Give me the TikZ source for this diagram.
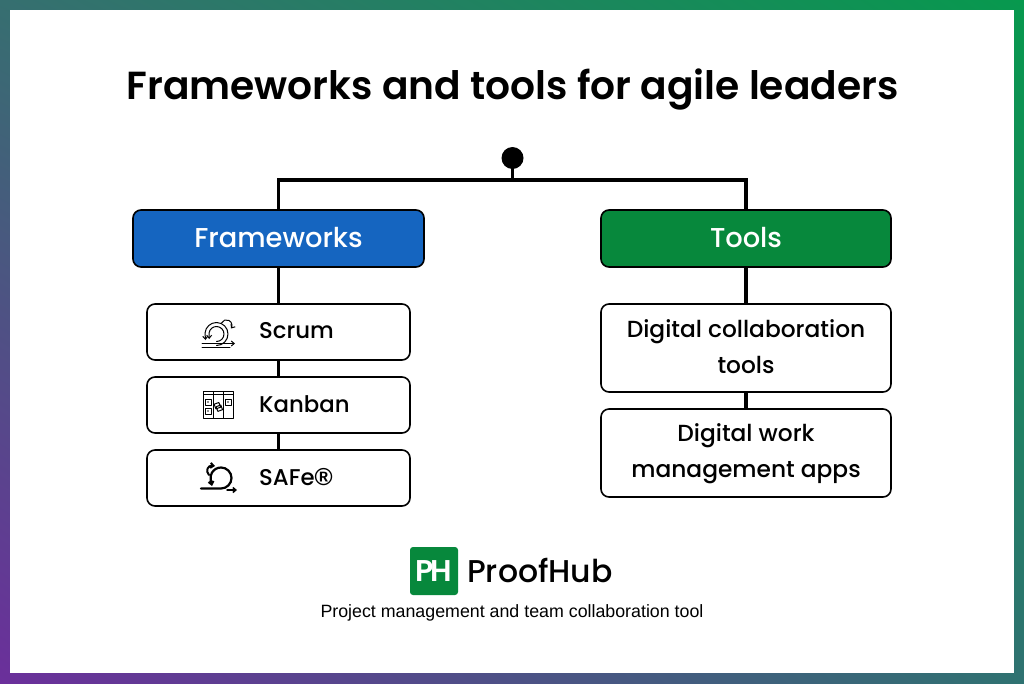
\documentclass[tikz,border=0pt]{standalone}
\usepackage{fontspec}
\setmainfont{Poppins Medium}
\newfontfamily\titlefont{Poppins SemiBold}
\newfontfamily\tagfont{Liberation Sans}
\usetikzlibrary{calc,shadings,arrows.meta}
\definecolor{tl}{HTML}{366F70}
\definecolor{tr}{HTML}{07994E}
\definecolor{bl}{HTML}{6B2F9B}
\definecolor{br}{HTML}{2F7271}
\definecolor{fwblue}{HTML}{1565C0}
\definecolor{toolgreen}{HTML}{07883C}
\tikzset{
  conn/.style={line width=3.8pt,black},
  headbox/.style={draw=black,line width=1.6pt,rounded corners=8pt,minimum width=290pt,minimum height=57pt,inner sep=0pt,text=white,font=\fontsize{27.3}{30}\selectfont},
  itembox/.style={draw=black,line width=1.6pt,rounded corners=8pt,fill=white,inner sep=0pt},
  smallbox/.style={itembox,minimum width=263pt,minimum height=56pt},
  bigbox/.style={itembox,minimum width=290pt,minimum height=88pt},
  bigtext/.style={inner sep=0pt,align=center,font=\fontsize{23.3}{36}\selectfont},
  lbl/.style={anchor=west,inner sep=0pt,font=\fontsize{22.8}{28}\selectfont},
  ico/.style={line width=1pt,black,line cap=round,line join=round},
  ticon/.style={ico,-{Straight Barb[length=3pt,width=5pt]}},
}
\begin{document}
\begin{tikzpicture}[x=1pt,y=-1pt]
\useasboundingbox (0,0) rectangle (1024,683);
\shade[upper left=tl,upper right=tr,lower left=bl,lower right=br] (0,0) rectangle (1024,683);
\fill[white] (10,10) rectangle (1014,673);
\node[inner sep=0pt,font=\titlefont\fontsize{39.15}{42}\selectfont] (title) at (512.5,89) {Frameworks and tools for agile leaders};

\node[circle,fill=black,minimum size=22pt,inner sep=0pt] (dot) at (512.5,158) {};
\coordinate (bus) at (512.5,180);
\node[headbox,fill=fwblue,minimum width=291pt] (fw) at (278.5,238.5) {\raisebox{2pt}{Frameworks}};
\node[headbox,fill=toolgreen] (tools) at (746,238.5) {\raisebox{2pt}{Tools}};
\node[smallbox] (scrum) at (278.5,332) {};
\node[smallbox] (kanban) at (278.5,405) {};
\node[smallbox] (safe) at (278.5,478) {};
\node[bigbox] (dc) at (746,348) {};
\node[bigbox] (dw) at (746,453) {};

\draw[conn] (dot.center) -- (bus);
\draw[conn] (fw.north) -- (fw.north |- bus) -- (tools.north |- bus) -- (tools.north);
\draw[conn] (fw.south) -- (scrum.north);
\draw[conn] (scrum.south) -- (kanban.north);
\draw[conn] (kanban.south) -- (safe.north);
\draw[conn] (tools.south) -- (dc.north);
\draw[conn] (dc.south) -- (dw.north);

\node[bigtext] (dct) at (746,346.5) {Digital collaboration\\tools\hspace{12pt}};
\node[bigtext] (dwt) at (746,454) {Digital work\\management apps};
\node[lbl] (scrumt) at (259,331) {Scrum};
\node[lbl] (kanbant) at (259,404) {Kanban};
\node[lbl] (safet) at (259,477) {SAFe{\fontsize{24.5}{24}\selectfont\tagfont\bfseries ®}};

% Scrum icon
\begin{scope}[shift={(218,332)}]
  \draw[ico] (-16,15.5) -- (12,15.5);
  \draw[ticon] (-16,11.5) -- (17,11.5);
  \draw[ticon] (-1.5,13.5) arc[start angle=90,end angle=-175,radius=11.5] -- (-12.5,8);
  \draw[ticon] (-1.5,9.5) arc[start angle=90,end angle=-170,radius=7.5] -- (-8.8,7);
  \draw[ticon] (3.5,-9) arc[start angle=-155,end angle=35,radius=5.5];
\end{scope}
% Kanban icon
\begin{scope}[shift={(218,405)}]
  \draw[ico,line cap=butt] (-15,-13.5) rectangle (15,13);
  \draw[ico,line width=1.8pt,line cap=butt] (-15,-10.5) -- (15,-10.5);
  \draw[ico,line cap=butt] (-5,-13.5) -- (-5,13) (5,-13.5) -- (5,13);
  \draw[ico] (-13,-6) rectangle (-7,0);
  \draw[ico] (-13,3) rectangle (-7,9);
  \draw[ico] (7,-6) rectangle (13,0);
  \fill (-10.7,-3.7) rectangle (-9.3,-2.3) (-10.7,5.3) rectangle (-9.3,6.7) (9.3,-3.7) rectangle (10.7,-2.3);
  \draw[ico,rotate around={20:(0,1)}] (-3,-2) rectangle (2,3);
  \draw[ico,rotate around={20:(0,1)}] (-2,1) rectangle (3,6);
\end{scope}
% SAFe icon
\begin{scope}[shift={(218,478)}]
  \draw[ticon,line width=2.2pt] (-17,10.5) -- (3,10.5) arc[start angle=90,end angle=-190,radius=10.5] -- (-6,8);
  \draw[ticon,line width=2pt] (-9,-3) .. controls (-13,-7) and (-10,-13) .. (-3,-12);
  \draw[ticon,line width=1.5pt] (9,12) -- (19,12);
\end{scope}

% Logo
\node[fill=toolgreen,rounded corners=3pt,minimum size=48pt,inner sep=0pt,text=white,font=\titlefont\fontsize{30}{30}\selectfont] (logo) at (434,571) {\addfontfeature{LetterSpace=-10}PH};
\node[anchor=west,inner sep=0pt,font=\fontsize{31.5}{36}\selectfont] (brand) at (467,570) {ProofHub};
\node[inner sep=0pt,font=\tagfont\fontsize{17.8}{20}\selectfont] (tag) at (512,613) {Project management and team collaboration tool};
\end{tikzpicture}
\end{document}
